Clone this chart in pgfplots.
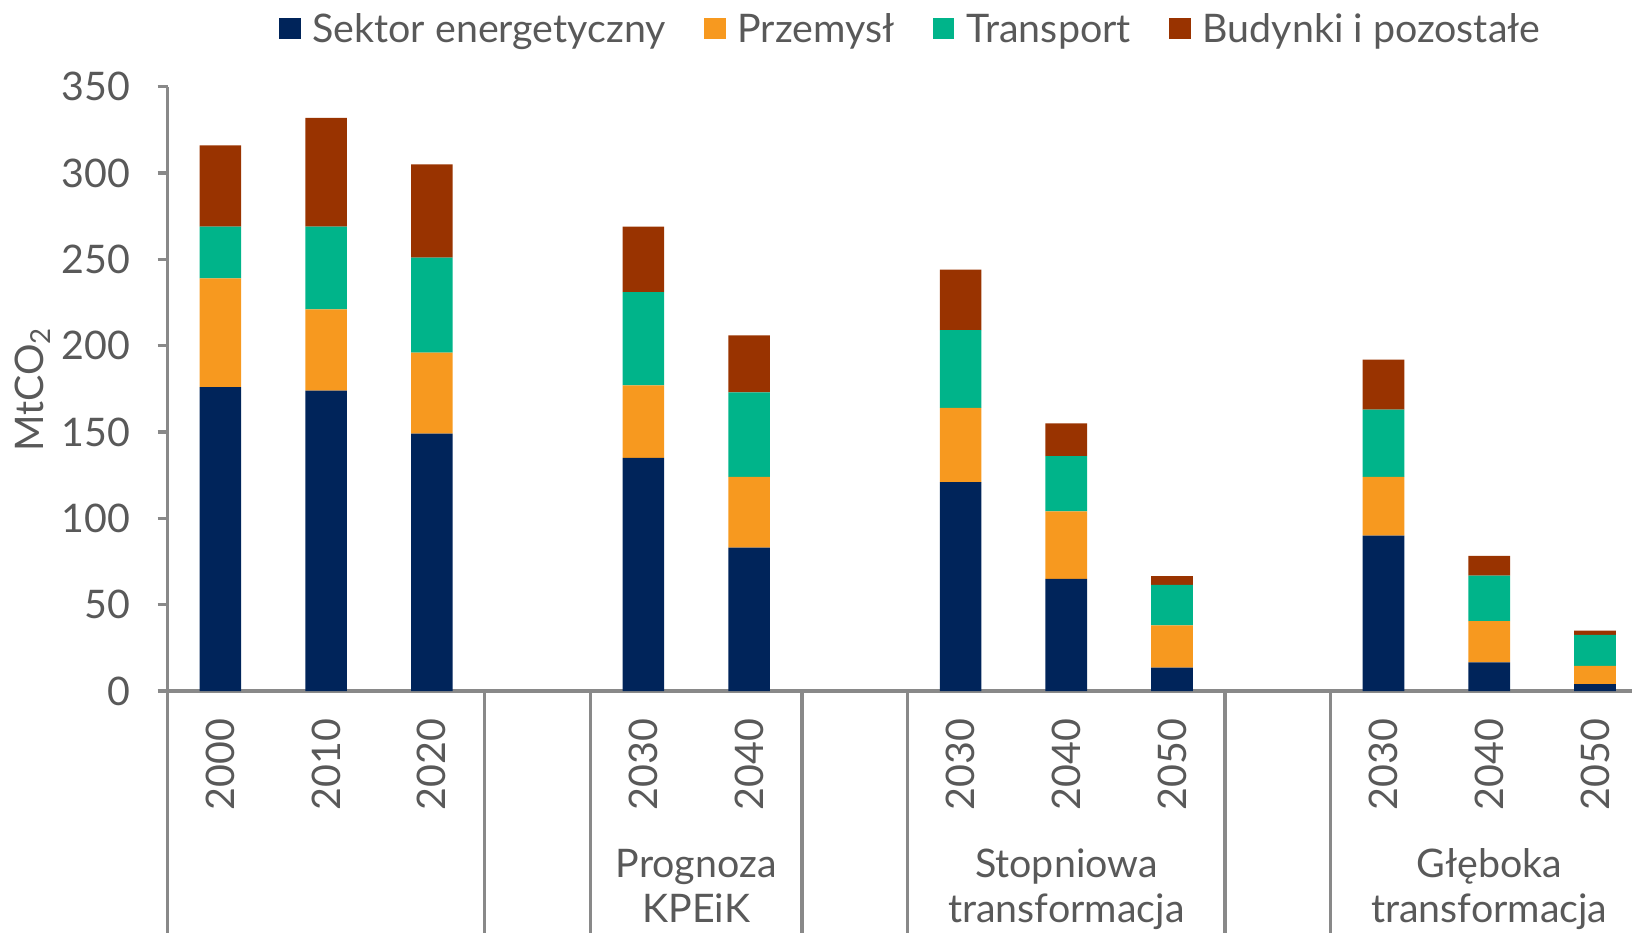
\documentclass[border=0pt]{standalone}
\usepackage{fontspec}
\setmainfont{Lato}
\usepackage{pgfplots}
\pgfplotsset{compat=1.18}
\usepackage{pgfplotstable}
\definecolor{c1}{HTML}{00245A}
\definecolor{c2}{HTML}{F7991F}
\definecolor{c3}{HTML}{00B48A}
\definecolor{c4}{HTML}{993300}
\definecolor{txt}{HTML}{595959}
\definecolor{axc}{HTML}{898989}

\pgfplotstableread{
x s p t b
0 176 63 30 47
1 174 47 48 63
2 149 47 55 54
4 135 42 54 38
5 83 41 49 33
7 121 43 45 35
8 65 39 32 19
9 13.5 24.5 23.5 5
11 90 34 39 29
12 16.6 23.9 26.3 11.4
13 4 10.5 18 2.5
}\data

\begin{document}
\begin{tikzpicture}[font=\fontsize{11.2}{13.5}\selectfont]
\useasboundingbox (0,0) rectangle (163.2mm,93.2mm);
\begin{axis}[
  at={(16.75mm,24.1mm)}, anchor=south west, scale only axis,
  width=149.1mm, height=60.43mm,
  xmin=-0.5, xmax=13.6, ymin=0, ymax=350,
  ybar stacked, bar width=4.17mm,
  clip=false,
  axis x line*=bottom, axis y line*=left,
  axis line style={axc, line width=0.9pt},
  every tick label/.append style={text=txt, font=\fontsize{11.2}{13.5}\selectfont},
  /pgf/number format/assume math mode=true,
  ytick={0,50,...,350},
  tick align=outside, major tick length=1mm,
  ytick style={axc, line width=0.9pt},
  xtick={0,1,2,4,5,7,8,9,11,12,13},
  xticklabels={2000,2010,2020,2030,2040,2030,2040,2050,2030,2040,2050},
  xtick style={draw=none},
  xticklabel style={rotate=90, anchor=east, inner sep=0pt, xshift=-1.7mm},
  yticklabel style={anchor=east, inner sep=0pt, xshift=-2.65mm},
  ylabel={MtCO\textsubscript{2}},
  ylabel style={at={(axis description cs:0,0.5)}, anchor=center, yshift=13.5mm, text=txt, inner sep=0pt},
  legend columns=4,
  legend style={at={(0,1)}, anchor=west, xshift=11.15mm, yshift=5.57mm,
    draw=none, fill=none, inner sep=0pt, outer sep=0pt,
    nodes={inner sep=0pt, text=txt},
    /tikz/every even column/.append style={column sep=3.85mm},
    /tikz/every odd column/.append style={column sep=1.2mm}},
  legend image code/.code={\fill[#1] (0mm,-0.85mm) rectangle (2.15mm,1.25mm);},
]
\addplot[fill=c1, draw=none] table[x=x, y=s] {\data};
\addplot[fill=c2, draw=none] table[x=x, y=p] {\data};
\addplot[fill=c3, draw=none] table[x=x, y=t] {\data};
\addplot[fill=c4, draw=none] table[x=x, y=b] {\data};
\legend{Sektor energetyczny, Przemysł, Transport, Budynki i pozostałe}

\pgfplotsinvokeforeach{-0.5,2.5,3.5,5.5,6.5,9.5,10.5}{
  \draw[axc, line width=0.9pt] (axis cs:#1,0) -- ([yshift=-26mm]axis cs:#1,0);
}
\node[anchor=base, text=txt, yshift=-18.6mm] at (axis cs:4.5,0) {Prognoza};
\node[anchor=base, text=txt, yshift=-23.1mm] at (axis cs:4.5,0) {KPEiK};
\node[anchor=base, text=txt, yshift=-18.6mm] at (axis cs:8,0) {Stopniowa};
\node[anchor=base, text=txt, yshift=-23.1mm] at (axis cs:8,0) {transformacja};
\node[anchor=base, text=txt, yshift=-18.6mm] at (axis cs:12,0) {Głęboka};
\node[anchor=base, text=txt, yshift=-23.1mm] at (axis cs:12,0) {transformacja};
\end{axis}
\end{tikzpicture}
\end{document}
